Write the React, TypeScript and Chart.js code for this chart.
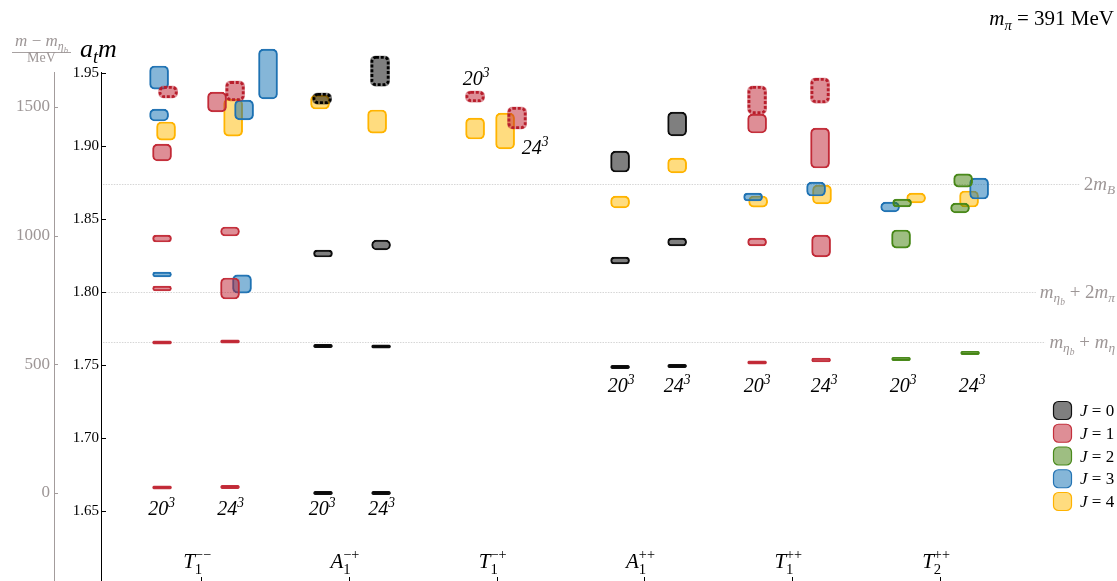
import React, { useEffect, useRef } from 'react';
import { Chart, registerables } from 'chart.js';

Chart.register(...registerables);

const FONT = '"Liberation Serif", "Times New Roman", serif';

// ---- categories (lattice irreps) ----
const IRREP_LETTER = ['T', 'A', 'T', 'A', 'T', 'T'];
const IRREP_SUB = ['1', '1', '1', '1', '1', '2'];
const IRREP_SUP = ['\u2212\u2212', '\u2212+', '\u2212+', '++', '++', '++'];

// ---- axis ticks ----
const AT_TICKS = [1.65, 1.7, 1.75, 1.8, 1.85, 1.9, 1.95];
const MEV_TICKS = [0, 500, 1000, 1500];
const ETA_B = 1.66233; // a_t m_{eta_b}
const AT_INV_MEV = 5673; // a_t^{-1} in MeV
const Y_MIN = 1.5993;
const Y_MAX = 1.9507;
const X_MIN = -0.677;
const X_MAX = 6.197;

// ---- levels: [x, a_t m, error, dashed] ----
const J0_LEVELS = [
  [0.819, 1.93253, 0.0038, 1],
  [0.825, 1.82637, 0.0024, 0],
  [0.825, 1.76301, 0.0011, 0],
  [0.825, 1.66233, 0.0011, 0],
  [1.211, 1.95137, 0.0103, 1],
  [1.218, 1.83219, 0.0034, 0],
  [1.218, 1.76267, 0.0011, 0],
  [1.218, 1.66233, 0.0011, 0],
  [2.835, 1.88938, 0.0072, 0],
  [2.835, 1.82158, 0.0024, 0],
  [2.835, 1.74863, 0.0011, 0],
  [3.221, 1.91507, 0.0082, 0],
  [3.221, 1.83425, 0.0027, 0],
  [3.221, 1.74932, 0.0011, 0],
];
const J1_LEVELS = [
  [-0.223, 1.93699, 0.0041, 1],
  [-0.264, 1.89555, 0.0058, 0],
  [-0.264, 1.83664, 0.0024, 0],
  [-0.264, 1.8024, 0.0017, 0],
  [-0.264, 1.76541, 0.0011, 0],
  [-0.264, 1.6661, 0.0011, 0],
  [0.108, 1.93014, 0.0068, 0],
  [0.23, 1.93767, 0.0068, 1],
  [0.196, 1.84144, 0.0031, 0],
  [0.196, 1.8024, 0.0072, 0],
  [0.196, 1.7661, 0.0011, 0],
  [0.196, 1.66644, 0.0011, 0],
  [1.854, 1.9339, 0.0038, 1],
  [2.138, 1.91918, 0.0075, 1],
  [3.762, 1.93151, 0.0096, 1],
  [3.762, 1.91541, 0.0065, 0],
  [4.188, 1.93801, 0.0086, 1],
  [4.188, 1.89863, 0.0137, 0],
  [3.762, 1.83425, 0.0027, 0],
  [4.195, 1.83151, 0.0075, 0],
  [3.762, 1.75171, 0.0011, 0],
  [4.195, 1.75342, 0.0013, 0],
];
const J2_LEVELS = [
  [4.743, 1.86096, 0.0027, 0],
  [4.736, 1.8363, 0.0062, 0],
  [4.736, 1.75411, 0.0012, 0],
  [5.156, 1.87637, 0.0045, 0],
  [5.135, 1.85753, 0.0034, 0],
  [5.203, 1.75822, 0.0012, 0],
];
const J3_LEVELS = [
  [-0.284, 1.94692, 0.0079, 0],
  [-0.284, 1.92123, 0.0041, 0],
  [-0.264, 1.81199, 0.0017, 0],
  [0.291, 1.92466, 0.0068, 0],
  [0.453, 1.94932, 0.0171, 0],
  [0.277, 1.80548, 0.0062, 0],
  [3.735, 1.86507, 0.0027, 0],
  [4.161, 1.87055, 0.0048, 0],
  [4.662, 1.85822, 0.0034, 0],
  [5.264, 1.87089, 0.0072, 0],
];
const J4_LEVELS = [
  [-0.237, 1.91027, 0.0062, 0],
  [0.217, 1.91952, 0.0127, 0],
  [0.805, 1.93014, 0.0048, 0],
  [1.191, 1.91678, 0.0079, 0],
  [1.854, 1.91199, 0.0072, 0],
  [2.057, 1.91027, 0.0123, 0],
  [2.835, 1.86164, 0.0041, 0],
  [3.221, 1.88664, 0.0051, 0],
  [3.769, 1.86199, 0.0038, 0],
  [4.201, 1.86678, 0.0065, 0],
  [4.838, 1.86438, 0.0034, 0],
  [5.196, 1.8637, 0.0055, 0],
];
const LEVELS = [J0_LEVELS, J1_LEVELS, J2_LEVELS, J3_LEVELS, J4_LEVELS];
const J_FILL = [
  'rgba(0,0,0,0.5)',
  'rgba(190,30,46,0.5)',
  'rgba(61,125,5,0.5)',
  'rgba(12,110,178,0.5)',
  'rgba(255,185,0,0.5)',
];
const J_BORDER = ['#111111', '#c4303c', '#4a8a1c', '#2474b4', '#ffb300'];
const J_DASH = ['#000000', '#b81e2c', '#3a7a10', '#1a64a4', '#e09a00'];

// ---- thresholds ----
const THRESH_VALUES = [1.87397, 1.80034, 1.76596];
const THRESH_NAMES = ['2mB', 'metab+2mpi', 'metab+meta'];

// ---- volume labels: [x, a_t m baseline, L] ----
const VOLUME_LABELS = [
  [-0.267, 1.6473, '20'],
  [0.2, 1.6473, '24'],
  [0.819, 1.6473, '20'],
  [1.221, 1.6473, '24'],
  [1.861, 1.9418, '20'],
  [2.26, 1.8945, '24'],
  [2.842, 1.7315, '20'],
  [3.221, 1.7315, '24'],
  [3.762, 1.7315, '20'],
  [4.215, 1.7315, '24'],
  [4.75, 1.7315, '20'],
  [5.217, 1.7315, '24'],
];

type Seg = { t: string; it?: boolean; s?: number; dy?: number; back?: boolean };

function drawMath(
  ctx: CanvasRenderingContext2D,
  segs: Seg[],
  x: number,
  y: number,
  size: number,
  color: string,
  align: 'left' | 'center' | 'right'
) {
  const items: { t: string; font: string; sx: number; dy: number }[] = [];
  let cx = 0;
  let lastStart = 0;
  let lastEnd = 0;
  for (const sg of segs) {
    const fs = size * (sg.s ?? 1);
    const font = `${sg.it ? 'italic ' : ''}${fs}px ${FONT}`;
    ctx.font = font;
    const w = ctx.measureText(sg.t).width;
    let sx: number;
    if (sg.back) {
      sx = lastStart;
      lastEnd = Math.max(lastEnd, sx + w);
      cx = lastEnd;
    } else {
      sx = cx;
      lastStart = sx;
      lastEnd = sx + w;
      cx = lastEnd;
    }
    items.push({ t: sg.t, font, sx, dy: (sg.dy ?? 0) * size });
  }
  const width = cx;
  const x0 = align === 'left' ? x : align === 'center' ? x - width / 2 : x - width;
  ctx.save();
  ctx.fillStyle = color;
  ctx.textBaseline = 'alphabetic';
  ctx.textAlign = 'left';
  for (const it of items) {
    ctx.font = it.font;
    ctx.fillText(it.t, x0 + it.sx, y + it.dy);
  }
  ctx.restore();
  return width;
}

function threshSegs(name: string): Seg[] {
  const metab: Seg[] = [
    { t: 'm', it: true },
    { t: '\u03b7', it: true, s: 0.7, dy: 0.22 },
    { t: 'b', it: true, s: 0.5, dy: 0.4 },
  ];
  if (name === '2mB') return [{ t: '2' }, { t: 'm', it: true }, { t: 'B', it: true, s: 0.7, dy: 0.22 }];
  if (name === 'metab+2mpi')
    return [...metab, { t: ' + 2' }, { t: 'm', it: true }, { t: '\u03c0', it: true, s: 0.7, dy: 0.22 }];
  return [...metab, { t: ' + ' }, { t: 'm', it: true }, { t: '\u03b7', it: true, s: 0.7, dy: 0.22 }];
}

const GRAY_AXIS = '#a39c9c';
const GRAY_TEXT = '#9d9696';

const decorPlugin = {
  id: 'decor',
  beforeDatasetsDraw(chart: any) {
    const ctx: CanvasRenderingContext2D = chart.ctx;
    const ys = chart.scales.y;
    const area = chart.chartArea;
    THRESH_VALUES.forEach((v, i) => {
      const py = ys.getPixelForValue(v);
      const w = drawMath(ctx, threshSegs(THRESH_NAMES[i]), chart.width - 2, py + 6, 19, GRAY_TEXT, 'right');
      ctx.save();
      ctx.strokeStyle = '#d6d6d6';
      ctx.lineWidth = 1;
      ctx.setLineDash([1.5, 1.2]);
      ctx.beginPath();
      ctx.moveTo(area.left + 2, Math.round(py) + 0.5);
      ctx.lineTo(chart.width - 2 - w - 4, Math.round(py) + 0.5);
      ctx.stroke();
      ctx.restore();
    });
  },
  afterDatasetsDraw(chart: any) {
    const ctx: CanvasRenderingContext2D = chart.ctx;
    chart.data.datasets.forEach((ds: any, i: number) => {
      if (!ds.dashed) return;
      const meta = chart.getDatasetMeta(i);
      meta.data.forEach((el: any) => {
        const p = el.getProps(['x', 'y', 'base', 'width'], true);
        const top = Math.min(p.y, p.base);
        const h = Math.abs(p.base - p.y);
        const lw = 2.8;
        ctx.save();
        ctx.strokeStyle = ds.dashColor;
        ctx.lineWidth = lw;
        ctx.setLineDash([3, 1.8]);
        ctx.beginPath();
        ctx.roundRect(p.x - p.width / 2 + lw / 2, top + lw / 2, p.width - lw, Math.max(h - lw, 1), 4);
        ctx.stroke();
        ctx.restore();
      });
    });
  },
  afterDraw(chart: any) {
    const ctx: CanvasRenderingContext2D = chart.ctx;
    const xs = chart.scales.x;
    const ys = chart.scales.y;
    const y2 = chart.scales.y2;
    const area = chart.chartArea;

    // inward tick marks on both y axes
    ctx.save();
    ctx.lineWidth = 1;
    ctx.strokeStyle = '#000';
    ys.ticks.forEach((t: any) => {
      const py = Math.round(ys.getPixelForValue(t.value)) + 0.5;
      ctx.beginPath();
      ctx.moveTo(ys.right, py);
      ctx.lineTo(ys.right + 5, py);
      ctx.stroke();
    });
    ctx.strokeStyle = GRAY_AXIS;
    y2.ticks.forEach((t: any) => {
      const py = Math.round(y2.getPixelForValue(t.value)) + 0.5;
      ctx.beginPath();
      ctx.moveTo(y2.right, py);
      ctx.lineTo(y2.right + 4, py);
      ctx.stroke();
    });
    // category ticks at the bottom
    ctx.strokeStyle = '#000';
    IRREP_LETTER.forEach((_, i) => {
      const px = Math.round(xs.getPixelForValue(i)) + 0.5;
      ctx.beginPath();
      ctx.moveTo(px, area.bottom - 8);
      ctx.lineTo(px, area.bottom);
      ctx.stroke();
    });
    ctx.restore();

    // category labels
    IRREP_LETTER.forEach((L, i) => {
      const px = xs.getPixelForValue(i);
      drawMath(
        ctx,
        [
          { t: L, it: true },
          { t: IRREP_SUP[i], s: 0.68, dy: -0.42 },
          { t: IRREP_SUB[i], s: 0.7, dy: 0.27, back: true },
        ],
        px - 4,
        area.bottom - 17,
        21,
        '#000',
        'center'
      );
    });

    // volume labels
    VOLUME_LABELS.forEach(([x, v, L]) => {
      drawMath(
        ctx,
        [
          { t: L as string, it: true },
          { t: '3', it: true, s: 0.68, dy: -0.42 },
        ],
        xs.getPixelForValue(x as number),
        ys.getPixelForValue(v as number),
        20,
        '#000',
        'center'
      );
    });

    // axis titles
    drawMath(
      ctx,
      [
        { t: 'm', it: true },
        { t: '\u2005\u2212\u2005' },
        { t: 'm', it: true },
        { t: '\u03b7', it: true, s: 0.7, dy: 0.22 },
        { t: 'b', it: true, s: 0.5, dy: 0.4 },
      ],
      41.5,
      46,
      17,
      GRAY_TEXT,
      'center'
    );
    ctx.save();
    ctx.strokeStyle = GRAY_TEXT;
    ctx.lineWidth = 0.9;
    ctx.beginPath();
    ctx.moveTo(12, 52.5);
    ctx.lineTo(71, 52.5);
    ctx.stroke();
    ctx.restore();
    drawMath(ctx, [{ t: 'MeV' }], 41.5, 62, 14, GRAY_TEXT, 'center');
    drawMath(
      ctx,
      [
        { t: 'a', it: true },
        { t: 't', it: true, s: 0.7, dy: 0.22 },
        { t: 'm', it: true },
      ],
      80,
      57,
      26,
      '#000',
      'left'
    );

    // top-right label
    drawMath(
      ctx,
      [
        { t: 'm', it: true },
        { t: '\u03c0', it: true, s: 0.7, dy: 0.22 },
        { t: ' = 391 MeV' },
      ],
      1114,
      25,
      21,
      '#000',
      'right'
    );

    // legend
    for (let j = 0; j < 5; j++) {
      const top = 401 + j * 22.75;
      ctx.save();
      ctx.beginPath();
      ctx.roundRect(1053.5, top + 0.5, 18, 18, 5);
      ctx.fillStyle = J_FILL[j];
      ctx.fill();
      ctx.lineWidth = 1.2;
      ctx.strokeStyle = J_BORDER[j];
      ctx.stroke();
      ctx.restore();
      drawMath(ctx, [{ t: 'J', it: true }, { t: ' = ' + j }], 1080, top + 15, 17, '#000', 'left');
    }
  },
};

function buildDatasets() {
  const sets: any[] = [];
  // dashed first (drawn on top)
  LEVELS.forEach((lv, j) => {
    const pts = lv.filter((r) => r[3] === 1).map((r) => ({ x: r[0], y: [r[1] - r[2], r[1] + r[2]] }));
    if (!pts.length) return;
    sets.push({
      label: `J=${j} dashed`,
      data: pts,
      dashed: true,
      dashColor: J_DASH[j],
      backgroundColor: J_FILL[j],
      borderWidth: 0,
    });
  });
  LEVELS.forEach((lv, j) => {
    const pts = lv.filter((r) => r[3] === 0).map((r) => ({ x: r[0], y: [r[1] - r[2], r[1] + r[2]] }));
    sets.push({
      label: `J=${j}`,
      data: pts,
      backgroundColor: J_FILL[j],
      borderColor: J_BORDER[j],
      borderWidth: 1.3,
    });
  });
  return sets.map((s) => ({
    ...s,
    type: 'bar',
    barThickness: 19,
    grouped: false,
    borderRadius: 5,
    borderSkipped: false,
    clip: false,
  }));
}

export default function App() {
  const ref = useRef<HTMLCanvasElement>(null);
  useEffect(() => {
    const chart = new Chart(ref.current as HTMLCanvasElement, {
      type: 'bar',
      data: { datasets: buildDatasets() as any },
      options: {
        animation: false,
        responsive: false,
        devicePixelRatio: 1,
        layout: { padding: { top: 72, bottom: 35, left: 0, right: 0 } },
        plugins: { legend: { display: false }, tooltip: { enabled: false } },
        scales: {
          x: { type: 'linear', min: X_MIN, max: X_MAX, display: false, offset: false },
          y: {
            type: 'linear',
            position: 'left',
            weight: 0,
            min: Y_MIN,
            max: Y_MAX,
            afterBuildTicks: (s: any) => {
              s.ticks = AT_TICKS.map((v) => ({ value: v }));
            },
            afterFit: (s: any) => {
              s.width = 47;
            },
            ticks: {
              padding: 2,
              color: '#000',
              font: { family: FONT, size: 15 },
              callback: (v: any) => Number(v).toFixed(2),
            },
            grid: { display: true, drawOnChartArea: false, drawTicks: false },
            border: { display: true, color: '#000', width: 1 },
          },
          y2: {
            type: 'linear',
            position: 'left',
            weight: 1,
            min: (Y_MIN - ETA_B) * AT_INV_MEV,
            max: (Y_MAX - ETA_B) * AT_INV_MEV,
            afterBuildTicks: (s: any) => {
              s.ticks = MEV_TICKS.map((v) => ({ value: v }));
            },
            afterFit: (s: any) => {
              s.width = 54;
            },
            ticks: {
              padding: 4,
              color: GRAY_TEXT,
              font: { family: FONT, size: 17 },
              callback: (v: any) => String(v),
            },
            grid: { display: true, drawOnChartArea: false, drawTicks: false },
            border: { display: true, color: GRAY_AXIS, width: 1 },
          },
        },
      } as any,
      plugins: [decorPlugin],
    });
    return () => chart.destroy();
  }, []);
  return (
    <div
      style={{
        position: 'fixed',
        left: 0,
        top: 0,
        width: 1117,
        height: 581,
        overflow: 'hidden',
        background: '#fff',
      }}
    >
      <canvas ref={ref} width={1117} height={620} style={{ display: 'block' }} />
    </div>
  );
}
